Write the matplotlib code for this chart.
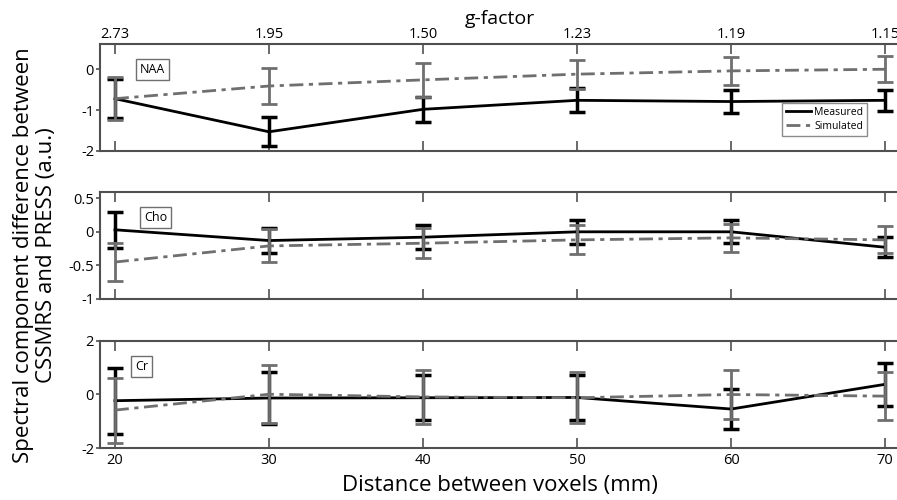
import numpy as np
import matplotlib.pyplot as plt
from matplotlib.lines import Line2D

plt.rcParams['font.family'] = ['Open Sans', 'DejaVu Sans']

# x positions (distance between voxels, mm) and the matching g-factor
distance = [20, 30, 40, 50, 60, 70]
g_factor = ['2.73', '1.95', '1.50', '1.23', '1.19', '1.15']

# NAA
naa_measured = [-0.72, -1.53, -0.98, -0.76, -0.79, -0.76]
naa_measured_err = [0.47, 0.35, 0.31, 0.29, 0.28, 0.26]
naa_simulated = [-0.72, -0.41, -0.26, -0.12, -0.04, 0.0]
naa_simulated_err = [0.53, 0.43, 0.41, 0.355, 0.335, 0.32]

# Cho
cho_measured = [0.03, -0.13, -0.08, 0.0, 0.0, -0.23]
cho_measured_err = [0.27, 0.19, 0.18, 0.175, 0.17, 0.15]
cho_simulated = [-0.45, -0.21, -0.17, -0.12, -0.09, -0.12]
cho_simulated_err = [0.28, 0.245, 0.225, 0.215, 0.205, 0.2]

# Cr
cr_measured = [-0.24, -0.14, -0.13, -0.12, -0.55, 0.37]
cr_measured_err = [1.23, 0.95, 0.84, 0.82, 0.74, 0.79]
cr_simulated = [-0.59, 0.0, -0.1, -0.13, -0.01, -0.07]
cr_simulated_err = [1.21, 1.08, 1.0, 0.955, 0.92, 0.9]

panels = [
    ('NAA', naa_measured, naa_measured_err, naa_simulated, naa_simulated_err, (-2, 0.63), [-2, -1, 0], ['-2', '-1', '0']),
    ('Cho', cho_measured, cho_measured_err, cho_simulated, cho_simulated_err, (-1, 0.6), [-1, -0.5, 0, 0.5], ['-1', '-0.5', '0', '0.5']),
    ('Cr', cr_measured, cr_measured_err, cr_simulated, cr_simulated_err, (-2, 2), [-2, 0, 2], ['-2', '0', '2']),
]

# axes placement in figure fraction (the right edge runs past the image like the original)
left = 0.111
width = 0.893
bottoms = [0.698, 0.402, 0.104]
height = 0.215
label_x = [21.6, 21.9, 21.3]

grey = '#6f6f6f'
spine_col = '#505050'
sim_dashes = (5, 2, 1.5, 2)

fig = plt.figure(figsize=(8.97, 5.0), dpi=100)
axes = []
for i, (name, meas, meas_err, sim, sim_err, ylim, yt, ytl) in enumerate(panels):
    ax = fig.add_axes([left, bottoms[i], width, height])
    axes.append(ax)
    ax.errorbar(distance, meas, yerr=meas_err, color='black', lw=2, capsize=6,
                elinewidth=2.5, capthick=2.5, zorder=2)
    ax.errorbar(distance, sim, yerr=sim_err, color=grey, lw=2, capsize=6,
                elinewidth=2, capthick=2, dashes=sim_dashes, zorder=3)
    ax.set_xlim(19, 71)
    ax.set_ylim(*ylim)
    ax.set_yticks(yt)
    ax.set_yticklabels(ytl)
    ax.set_xticks(distance)
    ax.tick_params(axis='x', direction='in', top=True, length=7, width=1.2, color=spine_col, labelsize=10.5)
    ax.tick_params(axis='y', direction='out', length=3, width=1.2, color=spine_col, labelsize=10.5, pad=1)
    for s in ax.spines.values():
        s.set_color(spine_col)
        s.set_linewidth(1.5)
    if i < 2:
        ax.set_xticklabels([])
    ax.text(label_x[i], ylim[1] - (ylim[1] - ylim[0]) * 0.24, name, fontsize=9, va='center', ha='left',
            bbox=dict(boxstyle='square,pad=0.3', fc='white', ec=grey, lw=1))

# g-factor axis on top of the first panel
top = axes[0].secondary_xaxis('top')
top.set_xticks(distance)
top.set_xticklabels(g_factor)
top.tick_params(direction='in', length=0, labelsize=10.5, pad=1)
top.spines['top'].set_visible(False)

# legend shows plain lines, no error bars
handles = [Line2D([], [], color='black', lw=2),
           Line2D([], [], color=grey, lw=2, dashes=sim_dashes)]
leg = axes[0].legend(handles, ['Measured', 'Simulated'], loc='lower right', bbox_to_anchor=(0.965, 0.09),
                     fontsize=7.5, frameon=True, fancybox=False, edgecolor=grey, handlelength=2.4,
                     borderpad=0.4, labelspacing=0.3, handletextpad=0.3)
leg.get_frame().set_linewidth(1)

fig.text(0.5575, 0.962, 'g-factor', ha='center', va='center', fontsize=14)
fig.text(0.5575, 0.03, 'Distance between voxels (mm)', ha='center', va='center', fontsize=16)
fig.text(0.039, 0.49, 'Spectral component difference between\nCSSMRS and PRESS (a.u.)', ha='center', va='center',
         rotation=90, fontsize=16, linespacing=1.15)

fig.savefig('out.png', dpi=100)
